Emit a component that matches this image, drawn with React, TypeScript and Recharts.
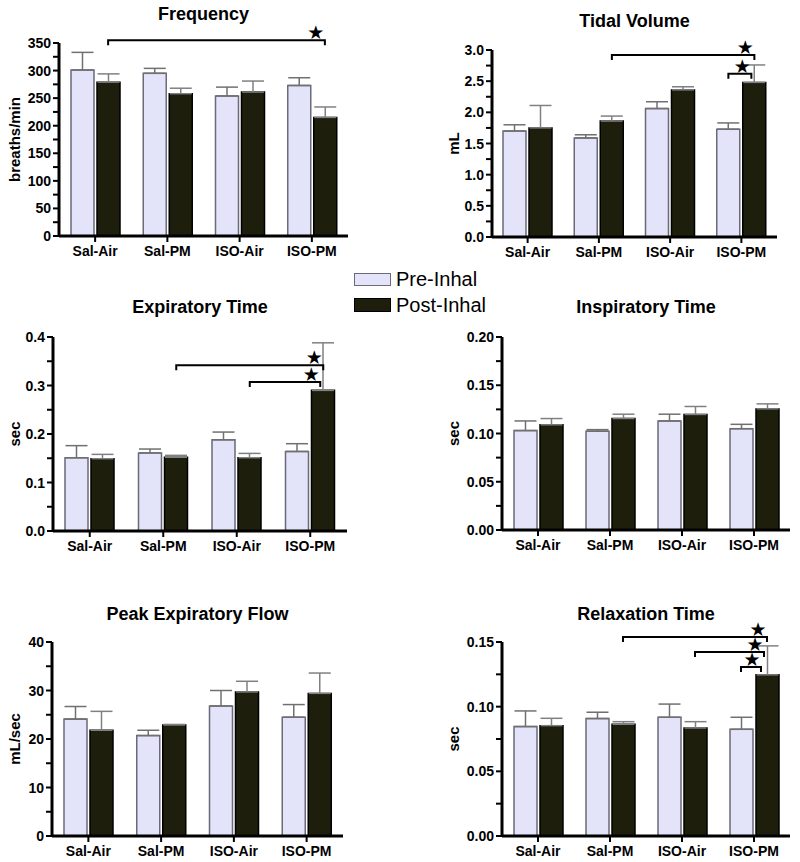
import React from 'react';
import { BarChart, Bar, XAxis, YAxis, ErrorBar, ReferenceLine } from 'recharts';

// group labels on the x axis
const groups = ['Sal-Air', 'Sal-PM', 'ISO-Air', 'ISO-PM'];

// mean and SEM (upper error only), pre- and post-inhalation
const freqPre = [301, 295, 254, 273];
const freqPreErr = [32, 9, 16, 14];
const freqPost = [279, 258, 261, 215];
const freqPostErr = [15, 10, 20, 19];

const tvPre = [1.7, 1.59, 2.06, 1.73];
const tvPreErr = [0.1, 0.05, 0.11, 0.1];
const tvPost = [1.75, 1.86, 2.36, 2.48];
const tvPostErr = [0.36, 0.08, 0.05, 0.28];

const expPre = [0.151, 0.161, 0.188, 0.164];
const expPreErr = [0.025, 0.008, 0.016, 0.016];
const expPost = [0.149, 0.152, 0.151, 0.29];
const expPostErr = [0.009, 0.004, 0.009, 0.098];

const inspPre = [0.103, 0.1024, 0.113, 0.105];
const inspPreErr = [0.01, 0.0016, 0.007, 0.0045];
const inspPost = [0.109, 0.1155, 0.1197, 0.1255];
const inspPostErr = [0.0065, 0.0045, 0.0083, 0.0052];

const pefPre = [24.1, 20.7, 26.8, 24.5];
const pefPreErr = [2.6, 1.1, 3.2, 2.6];
const pefPost = [21.8, 22.9, 29.7, 29.4];
const pefPostErr = [3.9, 0.1, 2.2, 4.2];

const rtPre = [0.0846, 0.0908, 0.0918, 0.0825];
const rtPreErr = [0.0121, 0.0049, 0.0102, 0.0093];
const rtPost = [0.0853, 0.0864, 0.0835, 0.1246];
const rtPostErr = [0.0057, 0.002, 0.0049, 0.0224];

// significance brackets vs ISO-PM post-inhal (top one first)
type Sig = { from: string; fromSeries: 'pre' | 'post'; to: string; y: number };
const freqSig: Sig[] = [{ from: 'Sal-Air', fromSeries: 'post', to: 'ISO-PM', y: 355 }];
const tvSig: Sig[] = [
  { from: 'Sal-PM', fromSeries: 'post', to: 'ISO-PM', y: 2.92 },
  { from: 'ISO-PM', fromSeries: 'pre', to: 'ISO-PM', y: 2.62 },
];
const expSig: Sig[] = [
  { from: 'Sal-PM', fromSeries: 'post', to: 'ISO-PM', y: 0.342 },
  { from: 'ISO-Air', fromSeries: 'post', to: 'ISO-PM', y: 0.307 },
];
const rtSig: Sig[] = [
  { from: 'Sal-PM', fromSeries: 'post', to: 'ISO-PM', y: 0.1539 },
  { from: 'ISO-Air', fromSeries: 'post', to: 'ISO-PM', y: 0.1423 },
  { from: 'ISO-PM', fromSeries: 'pre', to: 'ISO-PM', y: 0.1307 },
];

const range = (start: number, step: number, n: number) => Array.from({ length: n }, (_, i) => +(start + step * i).toFixed(4));

const PRE_FILL = '#e3e3fa';
const PRE_STROKE = '#6a6a78';
const POST_FILL = '#1e1e0c';
const FONT = "'Liberation Sans', Arial, Helvetica, sans-serif";
const X_AXIS_H = 24;
const BAR_SIZE = 23;
const BAR_GAP = 3;
const HALF_STEP = (BAR_SIZE + BAR_GAP) / 2;

interface PanelProps {
  title: string;
  yLabel: string;
  x0: number;
  y0: number;
  h: number;
  plotL: number;
  plotT: number;
  plotR: number;
  plotB: number;
  titleBase: number;
  labelX: number;
  max: number;
  majors: number[];
  minors: number[];
  decimals: number;
  pre: number[];
  preErr: number[];
  post: number[];
  postErr: number[];
  sig?: Sig[];
}

function Panel(p: PanelProps) {
  const rows = groups.map((g, i) => ({
    group: g,
    pre: p.pre[i],
    preErr: [0, p.preErr[i]],
    post: p.post[i],
    postErr: [0, p.postErr[i]],
  }));
  const ticks = [...p.majors, ...p.minors].sort((a, b) => a - b);
  const isMajor = (v: number) => p.majors.some((m) => Math.abs(m - v) < 1e-9);
  const labelY = (p.plotT + p.plotB) / 2 - p.y0;

  const yTick = (props: any) => {
    const { x, y, payload } = props;
    if (!isMajor(payload.value)) return <g />;
    return (
      <text x={x} y={y} dy="0.36em" textAnchor="end" fontSize={14} fontWeight={700} fill="#000">
        {Number(payload.value).toFixed(p.decimals)}
      </text>
    );
  };

  return (
    <>
      <div
        style={{
          position: 'absolute',
          left: p.plotL,
          width: p.plotR - p.plotL,
          top: p.titleBase - 15,
          textAlign: 'center',
          fontSize: 18,
          lineHeight: '18px',
          fontWeight: 700,
          whiteSpace: 'nowrap',
        }}
      >
        {p.title}
      </div>
      <div style={{ position: 'absolute', left: p.x0, top: p.y0 }}>
        <BarChart
          width={400}
          height={p.h}
          data={rows}
          barSize={BAR_SIZE}
          barGap={BAR_GAP}
          margin={{
            top: p.plotT - p.y0,
            right: p.x0 + 400 - p.plotR,
            bottom: p.h - (p.plotB - p.y0) - X_AXIS_H,
            left: 0,
          }}
        >
          <XAxis
            dataKey="group"
            height={X_AXIS_H}
            interval={0}
            axisLine={{ stroke: '#000', strokeWidth: 3 }}
            tickLine={{ stroke: '#000', strokeWidth: 2 }}
            tickSize={6}
            tickMargin={4}
            tick={{ fill: '#000', fontSize: 14, fontWeight: 700 }}
          />
          <YAxis
            width={p.plotL - p.x0}
            domain={[0, p.max]}
            allowDataOverflow
            ticks={ticks}
            interval={0}
            axisLine={{ stroke: '#000', strokeWidth: 3 }}
            tickLine={{ stroke: '#000', strokeWidth: 2 }}
            tickSize={6}
            tickMargin={2}
            tick={yTick}
            label={() => (
              <text
                x={p.labelX}
                y={labelY}
                transform={`rotate(-90 ${p.labelX} ${labelY})`}
                textAnchor="middle"
                fontSize={15}
                fontWeight={700}
                fill="#000"
              >
                {p.yLabel}
              </text>
            )}
          />
          <Bar dataKey="pre" fill={PRE_FILL} stroke={PRE_STROKE} strokeWidth={1.5} isAnimationActive={false}>
            <ErrorBar dataKey="preErr" width={11} stroke="#707070" strokeWidth={1.5} direction="y" />
          </Bar>
          <Bar dataKey="post" fill={POST_FILL} stroke="#000" strokeWidth={1.5} isAnimationActive={false}>
            <ErrorBar dataKey="postErr" width={11} stroke="#808080" strokeWidth={1.5} direction="y" />
          </Bar>
          {(p.sig || []).map((s, i) => (
            <ReferenceLine
              key={`br-${i}`}
              segment={[
                { x: s.from, y: s.y },
                { x: s.to, y: s.y },
              ]}
              ifOverflow="visible"
              shape={(lp: any) => {
                // shift from group centre to the compared bar's centre
                const xa = lp.x1 + (s.fromSeries === 'pre' ? -HALF_STEP : HALF_STEP);
                const xb = lp.x2 + HALF_STEP - 3 * i;
                const y = lp.y1;
                return (
                  <g>
                    <path d={`M${xa},${y + 5}V${y}H${xb}V${y + 5}`} fill="none" stroke="#000" strokeWidth={2} />
                    <text x={xb - 9} y={y - 8} dy="0.36em" textAnchor="middle" fontSize={19} fontFamily="DejaVu Sans" fill="#000">
                      ★
                    </text>
                  </g>
                );
              }}
            />
          ))}
        </BarChart>
      </div>
    </>
  );
}

export default function App() {
  return (
    <div
      style={{
        position: 'absolute',
        left: 0,
        top: 0,
        width: 800,
        height: 862,
        background: '#fff',
        fontFamily: FONT,
        color: '#000',
        overflow: 'hidden',
      }}
    >
      <Panel
        title="Frequency" yLabel="breaths/min"
        x0={0} y0={0} h={270} plotL={59} plotT={43} plotR={348} plotB={236} titleBase={20} labelX={20}
        max={350} majors={range(0, 50, 8)} minors={range(25, 50, 7)} decimals={0}
        pre={freqPre} preErr={freqPreErr} post={freqPost} postErr={freqPostErr} sig={freqSig}
      />
      <Panel
        title="Tidal Volume" yLabel="mL"
        x0={400} y0={0} h={270} plotL={492} plotT={50} plotR={777} plotB={237} titleBase={27} labelX={59}
        max={3} majors={range(0, 0.5, 7)} minors={range(0.25, 0.5, 6)} decimals={1}
        pre={tvPre} preErr={tvPreErr} post={tvPost} postErr={tvPostErr} sig={tvSig}
      />
      <Panel
        title="Expiratory Time" yLabel="sec"
        x0={0} y0={270} h={300} plotL={53} plotT={337} plotR={347} plotB={531} titleBase={313} labelX={20}
        max={0.4} majors={range(0, 0.1, 5)} minors={range(0.05, 0.1, 4)} decimals={1}
        pre={expPre} preErr={expPreErr} post={expPost} postErr={expPostErr} sig={expSig}
      />
      <Panel
        title="Inspiratory Time" yLabel="sec"
        x0={400} y0={270} h={300} plotL={502} plotT={337} plotR={790} plotB={530} titleBase={313} labelX={59}
        max={0.2} majors={range(0, 0.05, 5)} minors={range(0.025, 0.05, 4)} decimals={2}
        pre={inspPre} preErr={inspPreErr} post={inspPost} postErr={inspPostErr}
      />
      <Panel
        title="Peak Expiratory Flow" yLabel="mL/sec"
        x0={0} y0={580} h={282} plotL={52} plotT={642} plotR={343} plotB={836} titleBase={620} labelX={20}
        max={40} majors={range(0, 10, 5)} minors={range(5, 10, 4)} decimals={0}
        pre={pefPre} preErr={pefPreErr} post={pefPost} postErr={pefPostErr}
      />
      <Panel
        title="Relaxation Time" yLabel="sec"
        x0={400} y0={580} h={282} plotL={502} plotT={642} plotR={790} plotB={836} titleBase={620} labelX={59}
        max={0.15} majors={range(0, 0.05, 4)} minors={range(0.025, 0.05, 3)} decimals={2}
        pre={rtPre} preErr={rtPreErr} post={rtPost} postErr={rtPostErr} sig={rtSig}
      />
      {/* shared legend */}
      <div style={{ position: 'absolute', left: 354, top: 273, width: 37, height: 13, boxSizing: 'border-box', background: PRE_FILL, border: `1px solid ${PRE_STROKE}` }} />
      <div style={{ position: 'absolute', left: 396, top: 269, fontSize: 20, lineHeight: '20px', whiteSpace: 'nowrap' }}>Pre-Inhal</div>
      <div style={{ position: 'absolute', left: 354, top: 298, width: 37, height: 14, boxSizing: 'border-box', background: POST_FILL, border: '1px solid #000' }} />
      <div style={{ position: 'absolute', left: 396, top: 295, fontSize: 20, lineHeight: '20px', whiteSpace: 'nowrap' }}>Post-Inhal</div>
    </div>
  );
}
